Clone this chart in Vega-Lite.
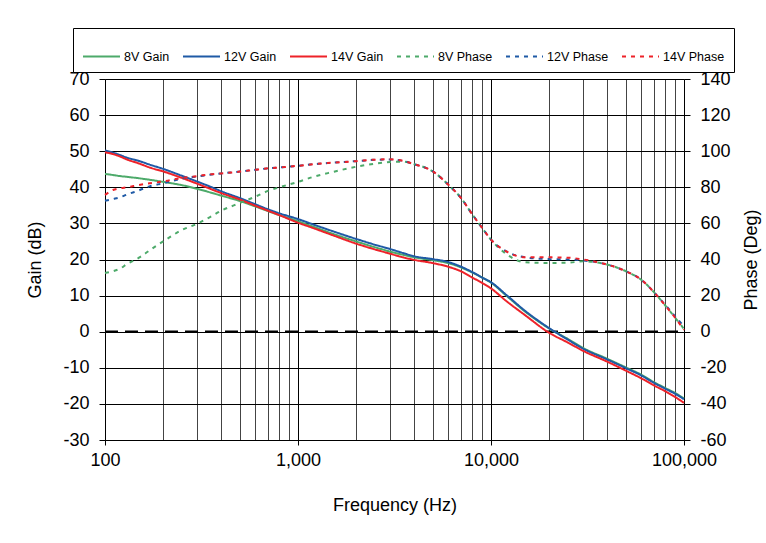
{
  "$schema": "https://vega.github.io/schema/vega-lite/v6.json",
  "width": 579,
  "height": 361,
  "autosize": {"type": "none"},
  "padding": {"left": 105, "top": 79, "right": 82, "bottom": 103},
  "background": "white",
  "config": {
    "font": "Liberation Sans",
    "view": {"stroke": null},
    "axis": {
      "labelFont": "Liberation Sans",
      "titleFont": "Liberation Sans",
      "labelFontSize": 18,
      "titleFontSize": 18,
      "titleFontWeight": "normal",
      "labelColor": "black",
      "titleColor": "black",
      "domainColor": "black",
      "domainWidth": 1,
      "tickColor": "black",
      "tickWidth": 1,
      "tickSize": 6,
      "gridColor": "black",
      "gridWidth": 1,
      "gridOpacity": 1
    },
    "legend": {
      "labelFont": "Liberation Sans",
      "labelFontSize": 12.5,
      "labelColor": "black"
    }
  },
  "data": {
    "values": [
      {"freq": 100, "series": "8V Gain", "value": 43.7},
      {"freq": 110, "series": "8V Gain", "value": 43.4},
      {"freq": 120, "series": "8V Gain", "value": 43.1},
      {"freq": 130, "series": "8V Gain", "value": 42.9},
      {"freq": 150, "series": "8V Gain", "value": 42.5},
      {"freq": 170, "series": "8V Gain", "value": 42.1},
      {"freq": 200, "series": "8V Gain", "value": 41.5},
      {"freq": 250, "series": "8V Gain", "value": 40.6},
      {"freq": 300, "series": "8V Gain", "value": 39.6},
      {"freq": 350, "series": "8V Gain", "value": 38.6},
      {"freq": 400, "series": "8V Gain", "value": 37.7},
      {"freq": 500, "series": "8V Gain", "value": 36.2},
      {"freq": 600, "series": "8V Gain", "value": 34.7},
      {"freq": 700, "series": "8V Gain", "value": 33.4},
      {"freq": 800, "series": "8V Gain", "value": 32.3},
      {"freq": 1000, "series": "8V Gain", "value": 30.6},
      {"freq": 1200, "series": "8V Gain", "value": 29.1},
      {"freq": 1500, "series": "8V Gain", "value": 27.2},
      {"freq": 2000, "series": "8V Gain", "value": 25.0},
      {"freq": 2500, "series": "8V Gain", "value": 23.4},
      {"freq": 3000, "series": "8V Gain", "value": 22.2},
      {"freq": 3500, "series": "8V Gain", "value": 21.3},
      {"freq": 4000, "series": "8V Gain", "value": 20.6},
      {"freq": 5000, "series": "8V Gain", "value": 19.8},
      {"freq": 6000, "series": "8V Gain", "value": 19.0},
      {"freq": 7000, "series": "8V Gain", "value": 17.8},
      {"freq": 8000, "series": "8V Gain", "value": 16.4},
      {"freq": 9000, "series": "8V Gain", "value": 15.0},
      {"freq": 10000, "series": "8V Gain", "value": 13.6},
      {"freq": 12000, "series": "8V Gain", "value": 10.0},
      {"freq": 15000, "series": "8V Gain", "value": 5.6},
      {"freq": 20000, "series": "8V Gain", "value": 0.9},
      {"freq": 25000, "series": "8V Gain", "value": -2.0},
      {"freq": 30000, "series": "8V Gain", "value": -4.5},
      {"freq": 40000, "series": "8V Gain", "value": -7.5},
      {"freq": 50000, "series": "8V Gain", "value": -9.9},
      {"freq": 60000, "series": "8V Gain", "value": -11.9},
      {"freq": 70000, "series": "8V Gain", "value": -14.0},
      {"freq": 80000, "series": "8V Gain", "value": -15.6},
      {"freq": 90000, "series": "8V Gain", "value": -17.0},
      {"freq": 100000, "series": "8V Gain", "value": -18.5},

      {"freq": 100, "series": "12V Gain", "value": 50.2},
      {"freq": 110, "series": "12V Gain", "value": 49.6},
      {"freq": 120, "series": "12V Gain", "value": 48.9},
      {"freq": 130, "series": "12V Gain", "value": 48.2},
      {"freq": 150, "series": "12V Gain", "value": 47.3},
      {"freq": 170, "series": "12V Gain", "value": 46.3},
      {"freq": 200, "series": "12V Gain", "value": 45.1},
      {"freq": 250, "series": "12V Gain", "value": 43.2},
      {"freq": 300, "series": "12V Gain", "value": 41.6},
      {"freq": 350, "series": "12V Gain", "value": 40.2},
      {"freq": 400, "series": "12V Gain", "value": 38.9},
      {"freq": 500, "series": "12V Gain", "value": 37.0},
      {"freq": 600, "series": "12V Gain", "value": 35.3},
      {"freq": 700, "series": "12V Gain", "value": 33.9},
      {"freq": 800, "series": "12V Gain", "value": 32.8},
      {"freq": 1000, "series": "12V Gain", "value": 31.2},
      {"freq": 1200, "series": "12V Gain", "value": 29.7},
      {"freq": 1500, "series": "12V Gain", "value": 27.9},
      {"freq": 2000, "series": "12V Gain", "value": 25.7},
      {"freq": 2500, "series": "12V Gain", "value": 24.1},
      {"freq": 3000, "series": "12V Gain", "value": 22.9},
      {"freq": 3500, "series": "12V Gain", "value": 21.8},
      {"freq": 4000, "series": "12V Gain", "value": 20.9},
      {"freq": 5000, "series": "12V Gain", "value": 20.1},
      {"freq": 6000, "series": "12V Gain", "value": 19.3},
      {"freq": 7000, "series": "12V Gain", "value": 18.0},
      {"freq": 8000, "series": "12V Gain", "value": 16.5},
      {"freq": 9000, "series": "12V Gain", "value": 15.0},
      {"freq": 10000, "series": "12V Gain", "value": 13.7},
      {"freq": 12000, "series": "12V Gain", "value": 10.2},
      {"freq": 15000, "series": "12V Gain", "value": 5.8},
      {"freq": 20000, "series": "12V Gain", "value": 1.0},
      {"freq": 25000, "series": "12V Gain", "value": -2.2},
      {"freq": 30000, "series": "12V Gain", "value": -4.7},
      {"freq": 40000, "series": "12V Gain", "value": -7.7},
      {"freq": 50000, "series": "12V Gain", "value": -10.1},
      {"freq": 60000, "series": "12V Gain", "value": -12.1},
      {"freq": 70000, "series": "12V Gain", "value": -14.2},
      {"freq": 80000, "series": "12V Gain", "value": -15.8},
      {"freq": 90000, "series": "12V Gain", "value": -17.2},
      {"freq": 100000, "series": "12V Gain", "value": -18.7},

      {"freq": 100, "series": "14V Gain", "value": 49.7},
      {"freq": 110, "series": "14V Gain", "value": 49.2},
      {"freq": 120, "series": "14V Gain", "value": 48.5},
      {"freq": 130, "series": "14V Gain", "value": 47.7},
      {"freq": 150, "series": "14V Gain", "value": 46.6},
      {"freq": 170, "series": "14V Gain", "value": 45.5},
      {"freq": 200, "series": "14V Gain", "value": 44.4},
      {"freq": 250, "series": "14V Gain", "value": 42.6},
      {"freq": 300, "series": "14V Gain", "value": 41.0},
      {"freq": 350, "series": "14V Gain", "value": 39.6},
      {"freq": 400, "series": "14V Gain", "value": 38.4},
      {"freq": 500, "series": "14V Gain", "value": 36.6},
      {"freq": 600, "series": "14V Gain", "value": 34.9},
      {"freq": 700, "series": "14V Gain", "value": 33.5},
      {"freq": 800, "series": "14V Gain", "value": 32.3},
      {"freq": 1000, "series": "14V Gain", "value": 30.2},
      {"freq": 1200, "series": "14V Gain", "value": 28.7},
      {"freq": 1500, "series": "14V Gain", "value": 26.8},
      {"freq": 2000, "series": "14V Gain", "value": 24.4},
      {"freq": 2500, "series": "14V Gain", "value": 22.8},
      {"freq": 3000, "series": "14V Gain", "value": 21.6},
      {"freq": 3500, "series": "14V Gain", "value": 20.6},
      {"freq": 4000, "series": "14V Gain", "value": 19.9},
      {"freq": 5000, "series": "14V Gain", "value": 19.0},
      {"freq": 6000, "series": "14V Gain", "value": 18.0},
      {"freq": 7000, "series": "14V Gain", "value": 16.7},
      {"freq": 8000, "series": "14V Gain", "value": 15.0},
      {"freq": 9000, "series": "14V Gain", "value": 13.5},
      {"freq": 10000, "series": "14V Gain", "value": 12.0},
      {"freq": 12000, "series": "14V Gain", "value": 8.5},
      {"freq": 15000, "series": "14V Gain", "value": 4.6},
      {"freq": 20000, "series": "14V Gain", "value": -0.3},
      {"freq": 25000, "series": "14V Gain", "value": -3.0},
      {"freq": 30000, "series": "14V Gain", "value": -5.3},
      {"freq": 40000, "series": "14V Gain", "value": -8.3},
      {"freq": 50000, "series": "14V Gain", "value": -10.8},
      {"freq": 60000, "series": "14V Gain", "value": -12.9},
      {"freq": 70000, "series": "14V Gain", "value": -14.9},
      {"freq": 80000, "series": "14V Gain", "value": -16.5},
      {"freq": 90000, "series": "14V Gain", "value": -18.1},
      {"freq": 100000, "series": "14V Gain", "value": -19.7},

      {"freq": 100, "series": "8V Phase", "value": 32.5},
      {"freq": 110, "series": "8V Phase", "value": 33.5},
      {"freq": 120, "series": "8V Phase", "value": 35.0},
      {"freq": 130, "series": "8V Phase", "value": 37.5},
      {"freq": 150, "series": "8V Phase", "value": 41.0},
      {"freq": 170, "series": "8V Phase", "value": 45.0},
      {"freq": 200, "series": "8V Phase", "value": 50.0},
      {"freq": 250, "series": "8V Phase", "value": 56.3},
      {"freq": 300, "series": "8V Phase", "value": 59.8},
      {"freq": 350, "series": "8V Phase", "value": 63.5},
      {"freq": 400, "series": "8V Phase", "value": 67.0},
      {"freq": 500, "series": "8V Phase", "value": 71.3},
      {"freq": 600, "series": "8V Phase", "value": 74.8},
      {"freq": 700, "series": "8V Phase", "value": 78.0},
      {"freq": 800, "series": "8V Phase", "value": 80.0},
      {"freq": 1000, "series": "8V Phase", "value": 83.0},
      {"freq": 1200, "series": "8V Phase", "value": 85.8},
      {"freq": 1500, "series": "8V Phase", "value": 88.4},
      {"freq": 2000, "series": "8V Phase", "value": 91.4},
      {"freq": 2500, "series": "8V Phase", "value": 93.1},
      {"freq": 3000, "series": "8V Phase", "value": 94.0},
      {"freq": 3500, "series": "8V Phase", "value": 94.2},
      {"freq": 4000, "series": "8V Phase", "value": 92.8},
      {"freq": 5000, "series": "8V Phase", "value": 88.8},
      {"freq": 6000, "series": "8V Phase", "value": 81.5},
      {"freq": 7000, "series": "8V Phase", "value": 74.0},
      {"freq": 8000, "series": "8V Phase", "value": 65.0},
      {"freq": 9000, "series": "8V Phase", "value": 57.5},
      {"freq": 10000, "series": "8V Phase", "value": 51.0},
      {"freq": 12000, "series": "8V Phase", "value": 43.0},
      {"freq": 15000, "series": "8V Phase", "value": 38.5},
      {"freq": 20000, "series": "8V Phase", "value": 38.1},
      {"freq": 25000, "series": "8V Phase", "value": 38.2},
      {"freq": 30000, "series": "8V Phase", "value": 39.0},
      {"freq": 40000, "series": "8V Phase", "value": 37.2},
      {"freq": 50000, "series": "8V Phase", "value": 33.5},
      {"freq": 60000, "series": "8V Phase", "value": 28.8},
      {"freq": 70000, "series": "8V Phase", "value": 21.8},
      {"freq": 80000, "series": "8V Phase", "value": 14.5},
      {"freq": 90000, "series": "8V Phase", "value": 7.7},
      {"freq": 100000, "series": "8V Phase", "value": 1.5},

      {"freq": 100, "series": "12V Phase", "value": 72.5},
      {"freq": 110, "series": "12V Phase", "value": 73.5},
      {"freq": 120, "series": "12V Phase", "value": 74.5},
      {"freq": 130, "series": "12V Phase", "value": 76.0},
      {"freq": 150, "series": "12V Phase", "value": 78.3},
      {"freq": 170, "series": "12V Phase", "value": 80.5},
      {"freq": 200, "series": "12V Phase", "value": 82.2},
      {"freq": 250, "series": "12V Phase", "value": 84.8},
      {"freq": 300, "series": "12V Phase", "value": 86.0},
      {"freq": 350, "series": "12V Phase", "value": 87.0},
      {"freq": 400, "series": "12V Phase", "value": 87.7},
      {"freq": 500, "series": "12V Phase", "value": 88.7},
      {"freq": 600, "series": "12V Phase", "value": 89.7},
      {"freq": 700, "series": "12V Phase", "value": 90.5},
      {"freq": 800, "series": "12V Phase", "value": 91.0},
      {"freq": 1000, "series": "12V Phase", "value": 91.9},
      {"freq": 1200, "series": "12V Phase", "value": 92.8},
      {"freq": 1500, "series": "12V Phase", "value": 93.6},
      {"freq": 2000, "series": "12V Phase", "value": 94.5},
      {"freq": 2500, "series": "12V Phase", "value": 95.2},
      {"freq": 3000, "series": "12V Phase", "value": 95.4},
      {"freq": 3500, "series": "12V Phase", "value": 94.6},
      {"freq": 4000, "series": "12V Phase", "value": 92.8},
      {"freq": 5000, "series": "12V Phase", "value": 88.8},
      {"freq": 6000, "series": "12V Phase", "value": 81.5},
      {"freq": 7000, "series": "12V Phase", "value": 74.0},
      {"freq": 8000, "series": "12V Phase", "value": 65.0},
      {"freq": 9000, "series": "12V Phase", "value": 57.5},
      {"freq": 10000, "series": "12V Phase", "value": 51.0},
      {"freq": 12000, "series": "12V Phase", "value": 44.5},
      {"freq": 15000, "series": "12V Phase", "value": 41.2},
      {"freq": 20000, "series": "12V Phase", "value": 40.2},
      {"freq": 25000, "series": "12V Phase", "value": 40.0},
      {"freq": 30000, "series": "12V Phase", "value": 39.5},
      {"freq": 40000, "series": "12V Phase", "value": 37.2},
      {"freq": 50000, "series": "12V Phase", "value": 33.5},
      {"freq": 60000, "series": "12V Phase", "value": 28.8},
      {"freq": 70000, "series": "12V Phase", "value": 21.8},
      {"freq": 80000, "series": "12V Phase", "value": 14.8},
      {"freq": 90000, "series": "12V Phase", "value": 8.5},
      {"freq": 100000, "series": "12V Phase", "value": 3.0},

      {"freq": 100, "series": "14V Phase", "value": 75.8},
      {"freq": 110, "series": "14V Phase", "value": 78.5},
      {"freq": 120, "series": "14V Phase", "value": 79.5},
      {"freq": 130, "series": "14V Phase", "value": 80.0},
      {"freq": 150, "series": "14V Phase", "value": 81.3},
      {"freq": 170, "series": "14V Phase", "value": 82.2},
      {"freq": 200, "series": "14V Phase", "value": 83.2},
      {"freq": 250, "series": "14V Phase", "value": 85.2},
      {"freq": 300, "series": "14V Phase", "value": 86.2},
      {"freq": 350, "series": "14V Phase", "value": 87.2},
      {"freq": 400, "series": "14V Phase", "value": 87.7},
      {"freq": 500, "series": "14V Phase", "value": 88.7},
      {"freq": 600, "series": "14V Phase", "value": 89.7},
      {"freq": 700, "series": "14V Phase", "value": 90.5},
      {"freq": 800, "series": "14V Phase", "value": 91.0},
      {"freq": 1000, "series": "14V Phase", "value": 91.9},
      {"freq": 1200, "series": "14V Phase", "value": 92.8},
      {"freq": 1500, "series": "14V Phase", "value": 93.6},
      {"freq": 2000, "series": "14V Phase", "value": 94.5},
      {"freq": 2500, "series": "14V Phase", "value": 95.3},
      {"freq": 3000, "series": "14V Phase", "value": 95.5},
      {"freq": 3500, "series": "14V Phase", "value": 94.6},
      {"freq": 4000, "series": "14V Phase", "value": 92.8},
      {"freq": 5000, "series": "14V Phase", "value": 88.8},
      {"freq": 6000, "series": "14V Phase", "value": 81.5},
      {"freq": 7000, "series": "14V Phase", "value": 74.0},
      {"freq": 8000, "series": "14V Phase", "value": 65.0},
      {"freq": 9000, "series": "14V Phase", "value": 57.5},
      {"freq": 10000, "series": "14V Phase", "value": 51.0},
      {"freq": 12000, "series": "14V Phase", "value": 44.5},
      {"freq": 15000, "series": "14V Phase", "value": 41.3},
      {"freq": 20000, "series": "14V Phase", "value": 41.2},
      {"freq": 25000, "series": "14V Phase", "value": 41.0},
      {"freq": 30000, "series": "14V Phase", "value": 40.0},
      {"freq": 40000, "series": "14V Phase", "value": 37.2},
      {"freq": 50000, "series": "14V Phase", "value": 33.5},
      {"freq": 60000, "series": "14V Phase", "value": 28.8},
      {"freq": 70000, "series": "14V Phase", "value": 21.8},
      {"freq": 80000, "series": "14V Phase", "value": 14.5},
      {"freq": 90000, "series": "14V Phase", "value": 7.7},
      {"freq": 100000, "series": "14V Phase", "value": 1.0}
    ]
  },
  "encoding": {
    "x": {
      "field": "freq",
      "type": "quantitative",
      "title": "Frequency (Hz)",
      "scale": {"type": "log", "domain": [100, 100000], "nice": false},
      "axis": {
        "values": [100, 200, 300, 400, 500, 600, 700, 800, 900, 1000, 2000, 3000, 4000, 5000, 6000, 7000, 8000, 9000, 10000, 20000, 30000, 40000, 50000, 60000, 70000, 80000, 90000, 100000],
        "labelExpr": "indexof([100, 1000, 10000, 100000], datum.value) >= 0 ? format(datum.value, ',') : ''",
        "labelOverlap": false,
        "labelFlush": false,
        "labelPadding": 6,
        "titlePadding": 27,
        "tickSize": 5,
        "tickOpacity": {"condition": {"test": "indexof([100, 1000, 10000, 100000], datum.value) >= 0", "value": 1}, "value": 0},
        "grid": true,
        "gridColor": {"condition": {"test": "indexof([100, 1000, 10000, 100000], datum.value) >= 0", "value": "#000000"}, "value": "#444444"}
      }
    },
    "color": {
      "field": "series",
      "type": "nominal",
      "scale": {
        "domain": ["8V Gain", "12V Gain", "14V Gain", "8V Phase", "12V Phase", "14V Phase"],
        "range": ["#4DAA6A", "#1F5AA6", "#EE2229", "#4DAA6A", "#1F5AA6", "#EE2229"]
      },
      "legend": {
        "title": null,
        "orient": "none",
        "legendX": -32,
        "legendY": -51,
        "direction": "horizontal",
        "columns": 6,
        "columnPadding": 9,
        "padding": 9,
        "strokeColor": "#000000",
        "fillColor": "white",
        "symbolType": "stroke",
        "symbolSize": 1369,
        "symbolStrokeWidth": 2,
        "labelOffset": 3
      }
    },
    "strokeDash": {
      "field": "series",
      "type": "nominal",
      "scale": {
        "domain": ["8V Gain", "12V Gain", "14V Gain", "8V Phase", "12V Phase", "14V Phase"],
        "range": [[1, 0], [1, 0], [1, 0], [4, 5], [4, 5], [4, 5]]
      },
      "legend": {
        "title": null,
        "orient": "none",
        "legendX": -32,
        "legendY": -51,
        "direction": "horizontal",
        "columns": 6,
        "columnPadding": 9,
        "padding": 9,
        "strokeColor": "#000000",
        "fillColor": "white",
        "symbolType": "stroke",
        "symbolSize": 1369,
        "symbolStrokeWidth": 2,
        "labelOffset": 3
      }
    }
  },
  "layer": [
    {
      "encoding": {
        "y": {
          "field": "value",
          "type": "quantitative",
          "title": "Gain (dB)",
          "scale": {"domain": [-30, 70], "nice": false, "zero": false},
          "axis": {
            "orient": "left",
            "values": [-30, -20, -10, 0, 10, 20, 30, 40, 50, 60, 70],
            "labelExpr": "'' + datum.value",
            "grid": true,
            "labelPadding": 10,
            "titlePadding": 18
          }
        }
      },
      "layer": [
        {
          "data": {"values": [{"freq": 100, "value": 0}, {"freq": 100000, "value": 0}]},
          "mark": {"type": "line", "stroke": "#000000", "strokeWidth": 2.2, "strokeDash": [13, 7]},
          "encoding": {"color": null, "strokeDash": null}
        },
        {
          "transform": [{"filter": "indexof(datum.series, 'Gain') >= 0"}],
          "mark": {"type": "line", "strokeWidth": 2, "interpolate": "monotone"}
        }
      ]
    },
    {
      "transform": [{"filter": "indexof(datum.series, 'Phase') >= 0"}],
      "mark": {"type": "line", "strokeWidth": 2, "interpolate": "monotone"},
      "encoding": {
        "y": {
          "field": "value",
          "type": "quantitative",
          "title": "Phase (Deg)",
          "scale": {"domain": [-60, 140], "nice": false, "zero": false},
          "axis": {
            "orient": "right",
            "values": [-60, -40, -20, 0, 20, 40, 60, 80, 100, 120, 140],
            "labelExpr": "'' + datum.value",
            "grid": false,
            "labelPadding": 10,
            "titlePadding": 12,
            "titleAngle": 270,
            "titleBaseline": "top"
          }
        }
      }
    }
  ],
  "resolve": {"scale": {"y": "independent"}}
}
